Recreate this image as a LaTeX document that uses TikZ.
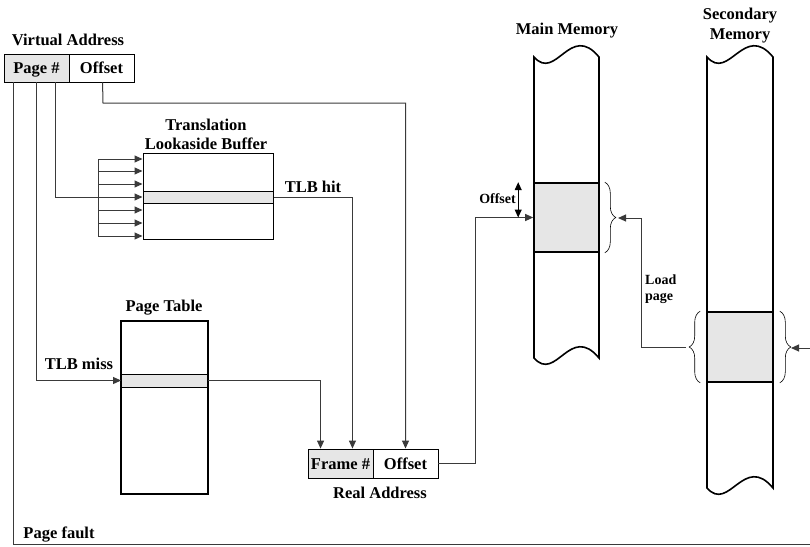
\documentclass[tikz,border=0pt]{standalone}
\usepackage{fontspec}
\setmainfont{Liberation Serif}
\usetikzlibrary{arrows.meta,decorations.pathreplacing,calc}
\definecolor{shade}{HTML}{E6E6E6}
\definecolor{conncol}{HTML}{3A3A3A}
\tikzset{
  lbl/.style={font=\fontsize{16.5}{20}\selectfont\bfseries, inner sep=0pt, anchor=base},
  smalllbl/.style={font=\fontsize{14}{16}\selectfont\bfseries, inner sep=0pt},
  cell/.style={draw=black, line width=0.9pt, inner sep=0pt, text height=11pt, text depth=0pt,
     font=\fontsize{16.5}{20}\selectfont\bfseries},
  conn/.style={draw=conncol, line width=1pt},
  tip/.style={-{Triangle[length=8pt,width=7pt]}},
  memcol/.style={draw=black, line width=1.6pt},
  bracestyle/.style={draw=black, line width=0.6pt, decorate, decoration={brace, amplitude=11pt}},
}
\begin{document}
\begin{tikzpicture}[x=1pt,y=-1pt]
\useasboundingbox (0,0) rectangle (810,546);
\clip (0,0) rectangle (810,546);

% ---- Virtual address
\node[lbl] (valbl) at (68,45) {Virtual Address};
\node[cell, fill=shade, minimum width=65pt, minimum height=28pt] (vapage) at (36.5,68) {Page \#};
\node[cell, minimum width=65pt, minimum height=28pt] (vaoff) at (101.5,68) {Offset};

% ---- TLB
\node[lbl] (tlbl1) at (206,130) {Translation};
\node[lbl] (tlbl2) at (206,149) {Lookaside Buffer};
\node[draw=black, line width=1pt, minimum width=130pt, minimum height=86pt, inner sep=0pt] (tlb) at (208,196) {};
\node[draw=black, fill=shade, line width=1pt, minimum width=130pt, minimum height=12pt, inner sep=0pt] (tlbrow) at (208,197) {};
\node[lbl] (hitlbl) at (313,192) {TLB hit};

% ---- Page table
\node[lbl] (ptlbl) at (164,311) {Page Table};
\node[draw=black, line width=1.6pt, minimum width=87pt, minimum height=173pt, inner sep=0pt] (pt) at (164.5,407.5) {};
\node[draw=black, fill=shade, line width=0.9pt, minimum width=86pt, minimum height=13pt, inner sep=0pt] (ptrow) at (164.5,380.5) {};
\node[lbl] (misslbl) at (79,369) {TLB miss};

% ---- Real address
\node[cell, fill=shade, minimum width=65pt, minimum height=29pt] (raframe) at (340.5,463.5) {Frame \#};
\node[cell, minimum width=65pt, minimum height=29pt] (raoff) at (405.5,463.5) {Offset};
\node[lbl] (ralbl) at (380,498) {Real Address};

\node[lbl] (pflbl) at (59,538) {Page fault};

% ---- Main memory
\node[lbl] (mmlbl) at (567,34) {Main Memory};
\draw[memcol] (534,57) .. controls +(22,25) and +(-29,-35) .. (599,57) -- (599,358)
   .. controls +(-29,-35) and +(22,25) .. (534,358) -- cycle;
\node[draw=black, fill=shade, line width=1.6pt, minimum width=65pt, minimum height=69pt, inner sep=0pt] (mmpage) at (566.5,217.5) {};

% ---- Secondary memory
\node[lbl] (smlbl1) at (740,19) {Secondary};
\node[lbl] (smlbl2) at (740,39) {Memory};
\draw[memcol] (707,57) .. controls +(22,25) and +(-29,-35) .. (773,57) -- (773,488)
   .. controls +(-29,-35) and +(22,25) .. (707,488) -- cycle;
\node[draw=black, fill=shade, line width=1.6pt, minimum width=66pt, minimum height=70pt, inner sep=0pt] (smpage) at (740,347) {};

% ---- braces
\draw[bracestyle] ([xshift=5pt]mmpage.north east) -- ([xshift=5pt]mmpage.south east);
\draw[bracestyle] ([xshift=-6pt]smpage.south west) -- ([xshift=-6pt]smpage.north west);
\draw[bracestyle] ([xshift=6pt]smpage.north east) -- ([xshift=6pt]smpage.south east);

% ---- coordinates
\coordinate (pfright) at (830,544);
\coordinate (pfup) at (830,348);
\coordinate (smR) at (791,348);
\coordinate (smL) at (686,347);
\coordinate (lpx) at (641,0);
\coordinate (mmR) at (618,218);
\coordinate (offturn) at (103,103);
\coordinate (rturn) at (475,0);
\coordinate (fanx) at (98,0);

% ---- connectors
\draw[conn, tip] ([xshift=10pt]vapage.south west) |- (pfright) -- (pfup) -- (smR);
\draw[conn, tip] ([xshift=33pt]vapage.south west) |- (ptrow.west);
\draw[conn] ([xshift=52pt]vapage.south west) |- (tlbrow.west -| fanx);
\draw[conn] (98,159) coordinate (fantop) -- (98,236) coordinate (fanbot);
\foreach \yy [count=\i] in {159,171,184,197,210,223,236}{
  \coordinate (fan\i) at (98,\yy);
  \draw[conn, tip] (fan\i) -- (fan\i -| tlb.west);
}
\draw[conn, tip] ([xshift=34pt]vaoff.south west) -- (offturn) -| (raoff.north);
\draw[conn, tip] (tlbrow.east) -| ([xshift=-21pt]raframe.north east);
\draw[conn, tip] (ptrow.east) -| ([xshift=13pt]raframe.north west);
\draw[conn, tip] (raoff.east) -- (raoff.east -| rturn) |- (mmpage.west);
\draw[conn, tip] (smL) -- (smL -| lpx) |- (mmR);

% offset double arrow
\draw[black, line width=1pt, {Triangle[length=8pt,width=7pt]}-{Triangle[length=8pt,width=7pt]}]
   ([xshift=-15pt]mmpage.north west) -- ([xshift=-15pt]mmpage.west);
\node[smalllbl, anchor=base east] (offlbl) at (516,203) {Offset};

\node[smalllbl, anchor=base west] (loadlbl) at (645,284) {Load};
\node[smalllbl, anchor=base west] (pagelbl) at (645,300) {page};
\end{tikzpicture}
\end{document}
